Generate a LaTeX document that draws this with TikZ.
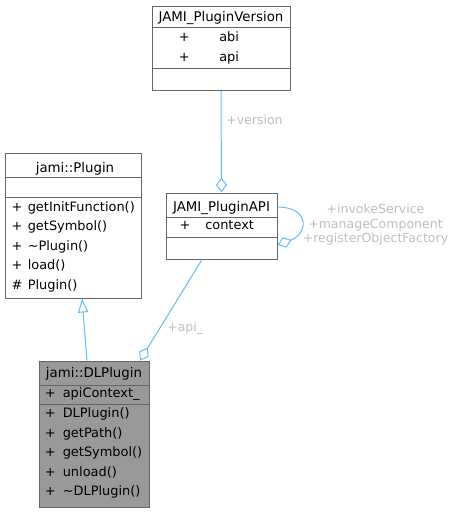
\documentclass[tikz,border=0pt]{standalone}
\usepackage{fontspec}
\setmainfont{DejaVu Sans}
\usetikzlibrary{arrows.meta}
\definecolor{edgeblue}{HTML}{63B8FF}
\definecolor{lblgray}{HTML}{BEBEBE}
\definecolor{boxgray}{HTML}{666666}
\definecolor{fillgray}{HTML}{999999}
\begin{document}
\begin{tikzpicture}[x=0.75pt,y=-0.75pt,
  umlbox/.style={draw=boxgray,line width=0.75pt,inner sep=0pt,fill=white},
  txt/.style={inner sep=0pt,anchor=base west,font=\fontsize{9.7}{12}\selectfont},
  ttl/.style={inner sep=0pt,anchor=base,font=\fontsize{10}{12}\selectfont},
  lbl/.style={inner sep=0pt,text=lblgray,font=\fontsize{9.4}{10.9}\selectfont},
  edge/.style={draw=edgeblue,line width=0.75pt},
  agg/.style={edge,-{Diamond[open,length=11.25pt,width=8.25pt]}},
  inh/.style={edge,-{Triangle[open,length=10.5pt,width=7.5pt]}},
  divider/.style={draw=boxgray,line width=0.75pt}]
\useasboundingbox (0,0) rectangle (457,512);

% JAMI_PluginVersion
\node[umlbox,minimum width=103.5pt,minimum height=63pt] (PV) at (221,48) {};
\draw[divider] (152,27.5) -- (290,27.5);
\draw[divider] (152,68) -- (290,68);
\node[ttl] (pvt) at (221,21) {JAMI\_PluginVersion};
\node[txt] (pv1p) at (178.6,41) {+};
\node[txt] (pv1) at (219,41) {abi};
\node[txt] (pv2p) at (178.6,61) {+};
\node[txt] (pv2) at (219,61) {api};

% jami::Plugin
\node[umlbox,minimum width=102pt,minimum height=108.75pt] (PL) at (73,225.5) {};
\draw[divider] (5,177) -- (141,177);
\draw[divider] (5,197) -- (141,197);
\node[ttl] (plt) at (75,172) {jami::Plugin};
\node[txt] (pl1p) at (11.3,211) {+};
\node[txt] (pl1) at (27.5,211) {getInitFunction()};
\node[txt] (pl2p) at (11.3,230.5) {+};
\node[txt] (pl2) at (27.5,230.5) {getSymbol()};
\node[txt] (pl3p) at (11.3,250) {+};
\node[txt] (pl3) at (27.5,250) {\textasciitilde Plugin()};
\node[txt] (pl4p) at (11.3,269.5) {+};
\node[txt] (pl4) at (27.5,269.5) {load()};
\node[txt] (pl5p) at (11.3,289) {\#};
\node[txt] (pl5) at (27.5,289) {Plugin()};

% JAMI_PluginAPI
\node[umlbox,minimum width=83.25pt,minimum height=49.5pt] (API) at (221.5,226) {};
\draw[divider] (166,217) -- (277,217);
\draw[divider] (166,237) -- (277,237);
\node[ttl] (apit) at (221.5,211) {JAMI\_PluginAPI};
\node[txt] (api1p) at (179.3,229.5) {+};
\node[txt] (api1) at (205,229.5) {context};

% jami::DLPlugin
\node[umlbox,fill=fillgray,minimum width=82.5pt,minimum height=109.5pt] (DL) at (94,434) {};
\draw[divider] (39,385) -- (149,385);
\draw[divider] (39,404) -- (149,404);
\node[ttl] (dlt) at (94,377) {jami::DLPlugin};
\node[txt] (dl0p) at (44.6,397) {+};
\node[txt] (dl0) at (62.5,397) {apiContext\_};
\node[txt] (dl1p) at (44.6,417.5) {+};
\node[txt] (dl1) at (62.5,417.5) {DLPlugin()};
\node[txt] (dl2p) at (44.6,437) {+};
\node[txt] (dl2) at (62.5,437) {getPath()};
\node[txt] (dl3p) at (44.6,456.5) {+};
\node[txt] (dl3) at (62.5,456.5) {getSymbol()};
\node[txt] (dl4p) at (44.6,476) {+};
\node[txt] (dl4) at (62.5,476) {unload()};
\node[txt] (dl5p) at (44.6,495.5) {+};
\node[txt] (dl5) at (62.5,495.5) {\textasciitilde DLPlugin()};

% edges
\draw[agg] (PV.south) -- (API.north);
\node[lbl,anchor=west] (lver) at (226,120) {+version};

\draw[agg] ([yshift=14.25pt]API.east) to[out=0,in=20,looseness=2.2] ([yshift=-14.25pt]API.east);
\node[lbl,align=center] (lself) at (375.5,225) {+invokeService\\+manageComponent\\+registerObjectFactory};

\draw[inh] ([xshift=-5.25pt]DL.north) -- ([xshift=6.75pt]PL.south);

\draw[agg] ([xshift=-14.6pt]API.south) -- ([xshift=34.5pt]DL.north);
\node[lbl,anchor=west] (lapi) at (167,328) {+api\_};
\end{tikzpicture}
\end{document}
